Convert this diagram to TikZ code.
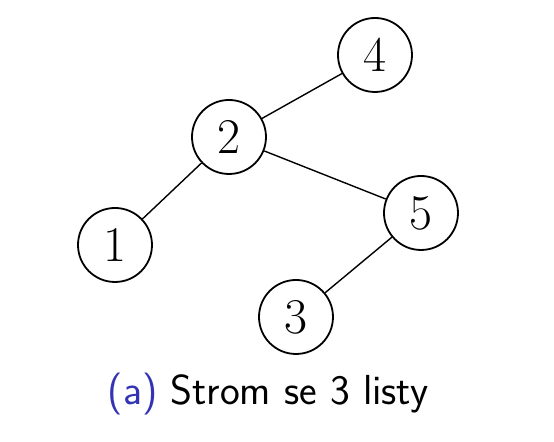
\documentclass[tikz,border=0pt]{standalone}
\usepackage{tikz}
\definecolor{capblue}{RGB}{51,51,179}

\begin{document}
\begin{tikzpicture}[
  x=1pt, y=1pt,
  vertex/.style = {shape=circle, draw, line width=0.9pt, minimum size=37pt,
                   inner sep=0pt, font=\fontsize{25}{30}\selectfont},
  edge/.style = {line width=0.7pt}
]
  \useasboundingbox (0,0) rectangle (277,221);
  \node[vertex] (n4) at (187.5,193.5) {4};
  \node[vertex] (n2) at (114.5,152.5) {2};
  \node[vertex] (n5) at (210.5,114.5) {5};
  \node[vertex] (n1) at (57.5,98.5) {1};
  \node[vertex] (n3) at (148,62.5) {3};
  \draw[edge] (n2) -- (n4);
  \draw[edge] (n2) -- (n5);
  \draw[edge] (n2) -- (n1);
  \draw[edge] (n5) -- (n3);
  \node[anchor=base, font=\sffamily\fontsize{21}{25}\selectfont] (cap) at (134,18.5)
    {\textcolor{capblue}{(a)} Strom se 3 listy};
\end{tikzpicture}
\end{document}
